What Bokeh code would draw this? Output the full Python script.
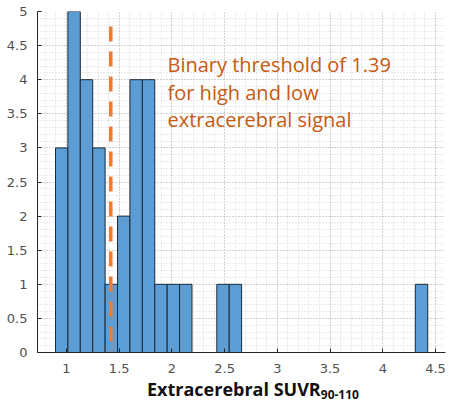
import numpy as np
from bokeh.plotting import figure
from bokeh.models import Range1d, Label, FixedTicker, ColumnDataSource, Div
from bokeh.layouts import column
from bokeh.embed import file_html
from bokeh.resources import INLINE

# ---- data ----
bin_start = 0.8956
bin_width = 0.1177
counts = [3, 5, 4, 3, 1, 2, 4, 4, 1, 1, 1, 0, 0, 1, 1,
          0, 0, 0, 0, 0, 0, 0, 0, 0, 0, 0, 0, 0, 0, 1]
threshold_x = 1.42
threshold_top = 4.78
x_ticks = [1, 1.5, 2, 2.5, 3, 3.5, 4, 4.5]
y_ticks = [0, 0.5, 1, 1.5, 2, 2.5, 3, 3.5, 4, 4.5, 5]
annot_lines = ["Binary threshold of 1.39", "for high and low", "extracerebral signal"]
xlabel_main = "Extracerebral SUVR"
xlabel_sub = "90-110"

lefts = [bin_start + i * bin_width for i in range(len(counts))]
rights = [l + bin_width for l in lefts]
src = ColumnDataSource(dict(left=[l for l, c in zip(lefts, counts) if c > 0],
                            right=[r for r, c in zip(rights, counts) if c > 0],
                            top=[c for c in counts if c > 0]))

fig = figure(width=450, height=376, output_backend="svg", toolbar_location=None,
             x_range=Range1d(0.725, 4.595), y_range=Range1d(0, 5),
             min_border_left=37, min_border_right=5, min_border_top=11, min_border_bottom=24)
fig.outline_line_color = None
fig.background_fill_color = "white"

# grid
for g in (fig.xgrid, fig.ygrid):
    g.grid_line_color = "#b8b8b8"
    g.grid_line_dash = "1 2"
    g.grid_line_width = 1
    g.minor_grid_line_color = "#d4d4d4"
    g.minor_grid_line_dash = "1 2"

fig.xaxis.ticker = FixedTicker(ticks=x_ticks, minor_ticks=[round(0.7 + 0.1 * i, 2) for i in range(40)])
fig.yaxis.ticker = FixedTicker(ticks=y_ticks, minor_ticks=[round(0.1 * i, 2) for i in range(51)])
fig.xgrid.ticker = fig.xaxis.ticker
fig.ygrid.ticker = fig.yaxis.ticker

for ax in (fig.xaxis, fig.yaxis):
    ax.axis_line_color = "#262626"
    ax.major_tick_line_color = "#262626"
    ax.major_tick_in = 4
    ax.major_tick_out = 0
    ax.minor_tick_line_color = None
    ax.major_label_text_font = "DejaVu Sans"
    ax.major_label_text_font_size = "13px"
    ax.major_label_text_color = "#4f4f4f"
fig.xaxis.major_label_standoff = 7
fig.yaxis.major_label_standoff = 6
fig.xaxis.major_label_overrides = {1: "1", 1.5: "1.5", 2: "2", 2.5: "2.5", 3: "3",
                                   3.5: "3.5", 4: "4", 4.5: "4.5"}

fig.quad(left="left", right="right", bottom=0, top="top", source=src,
         fill_color="#5B9DD4", line_color="#1e2a36", line_width=1)

fig.line([threshold_x, threshold_x], [threshold_top, 0], line_color="#ED7D31",
         line_width=3.5, line_dash="15 10")

annot_y = [4.223, 3.819, 3.416]
for txt, yy in zip(annot_lines, annot_y):
    fig.add_layout(Label(x=1.958, y=yy, text=txt, text_font="Open Sans", text_font_size="20px",
                         text_color="#C55A11", text_baseline="alphabetic", text_align="left"))

label_html = (
    '<div style="padding:4px 0 0 147px; font-family:\'Open Sans\'; font-weight:bold; '
    'font-size:18px; line-height:18px; color:#111111; white-space:nowrap;">'
    f'{xlabel_main}<span style="font-size:12px; position:relative; top:3px;">{xlabel_sub}</span>'
    '</div>'
)
xlabel_div = Div(text=label_html, width=450, height=28, margin=(0, 0, 0, 0))

p = column(fig, xlabel_div, spacing=0)

open("out.html", "w").write(file_html(p, INLINE))
